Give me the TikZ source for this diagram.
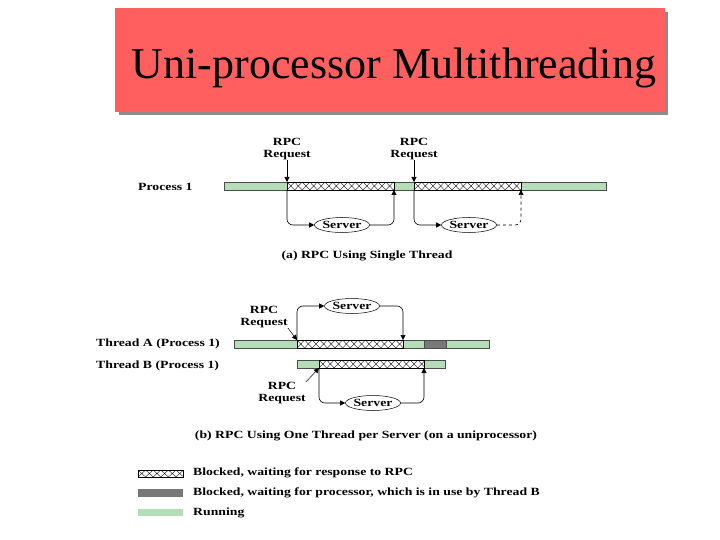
\documentclass[tikz,border=0pt]{standalone}
\usepackage{fontspec}
\setmainfont{Liberation Serif}
\newfontfamily\labfont[FakeStretch=1.25]{Liberation Serif}
\usetikzlibrary{arrows.meta,shapes.geometric}
\definecolor{titlered}{HTML}{FF5F5F}
\definecolor{rungreen}{HTML}{B5DEB8}
\definecolor{waitgray}{HTML}{787878}
\tikzset{
  lab/.style={font=\labfont\bfseries\fontsize{11}{12}\selectfont, inner sep=0pt},
  srv/.style={ellipse, draw, line width=0.5pt, minimum width=50pt, minimum height=15pt, inner sep=0pt, font=\labfont\bfseries\fontsize{11}{12}\selectfont},
  conn/.style={line width=0.6pt, rounded corners=6pt},
  tip/.style={-{Triangle[length=5pt,width=5pt]}},
  barline/.style={draw=black!70, line width=0.4pt},
}
\newcommand\hatchseg[4]{%
  \begin{scope}
    \clip (#1,#3) rectangle (#2,#4);
    \fill[white] (#1,#3) rectangle (#2,#4);
    \pgfmathsetmacro\hsnext{#1+7.6}
    \foreach \hx in {#1,\hsnext,...,#2}
      \draw[line width=0.35pt] (\hx,#3) -- (\hx+7.6,#4) (\hx,#4) -- (\hx+7.6,#3);
  \end{scope}
  \draw[line width=0.4pt] (#1,#3) rectangle (#2,#4);}
\begin{document}
\begin{tikzpicture}[x=1pt,y=-1pt]
\useasboundingbox (0,0) rectangle (720,540);
% title
\fill[black!45] (119,12) rectangle (668,115);
\fill[titlered] (115,8) rectangle (665,112);
\node[anchor=base, inner sep=0pt, font=\fontsize{44}{50}\selectfont] (title) at (394,79) {Uni-processor Multithreading};

% ---------- part (a) ----------
\node[lab, anchor=west] (p1lab) at (138,187) {Process 1};
\fill[rungreen, barline] (224,182) rectangle (606,190);
\hatchseg{287}{394}{182}{190}
\hatchseg{414}{521}{182}{190}

\node[lab, align=center] (ra1) at (287,149) {RPC\\Request};
\node[lab, align=center] (ra2) at (414,149) {RPC\\Request};
\coordinate (ra1t) at (287,182);
\coordinate (ra2t) at (414,182);
\draw[conn, tip] (ra1.south) -- (ra1t);
\draw[conn, tip] (ra2.south) -- (ra2t);

\node[srv] (s1) at (342,225) {Server};
\node[srv] (s2) at (469,225) {Server};
\coordinate (a1d) at (287,190);
\coordinate (a1u) at (394,190);
\coordinate (a2d) at (414,190);
\coordinate (a2u) at (521,190);
\draw[conn, tip] (a1d) |- (s1.west);
\draw[conn, tip] (s1.east) -| (a1u);
\draw[conn, tip] (a2d) |- (s2.west);
\draw[conn, tip, dashed] (s2.east) -| (a2u);

\node[lab] (capa) at (367,256) {(a) RPC Using Single Thread};

% ---------- part (b) ----------
\node[lab, anchor=west] (talab) at (96,344) {Thread A (Process 1)};
\node[lab, anchor=west] (tblab) at (96,366) {Thread B (Process 1)};
\fill[rungreen, barline] (234,340) rectangle (489,348);
\hatchseg{297}{403}{340}{348}
\fill[waitgray, barline] (424,340) rectangle (446,348);
\fill[rungreen, barline] (297,360) rectangle (445,368);
\hatchseg{319}{424}{360}{368}

\node[srv] (sA) at (352,306) {Server};
\node[srv] (sB) at (373,403) {Server};
\coordinate (bAu) at (297,340);
\coordinate (bAd) at (403,340);
\coordinate (bBd) at (319,368);
\coordinate (bBu) at (424,368);
\draw[conn, tip] (bAu) |- (sA.west);
\draw[conn, tip] (sA.east) -| (bAd);
\draw[conn, tip] (bBd) |- (sB.west);
\draw[conn, tip] (sB.east) -| (bBu);

\node[lab, align=center] (rA) at (264,317) {RPC\\Request};
\node[lab, align=center] (rB) at (282,393) {RPC\\Request};
\draw[line width=0.5pt, tip] (rA.south east) -- (bAu);
\draw[line width=0.5pt, tip] (rB.north east) -- (bBd);

\node[lab] (capb) at (366,436) {(b) RPC Using One Thread per Server (on a uniprocessor)};

% ---------- legend ----------
\hatchseg{138}{183}{470}{477}
\fill[waitgray] (138,489) rectangle (183,497);
\fill[rungreen] (138,509) rectangle (183,516);
\node[lab, anchor=west] (lg1) at (193,473) {Blocked, waiting for response to RPC};
\node[lab, anchor=west] (lg2) at (193,493) {Blocked, waiting for processor, which is in use by Thread B};
\node[lab, anchor=west] (lg3) at (193,513) {Running};
\end{tikzpicture}
\end{document}
